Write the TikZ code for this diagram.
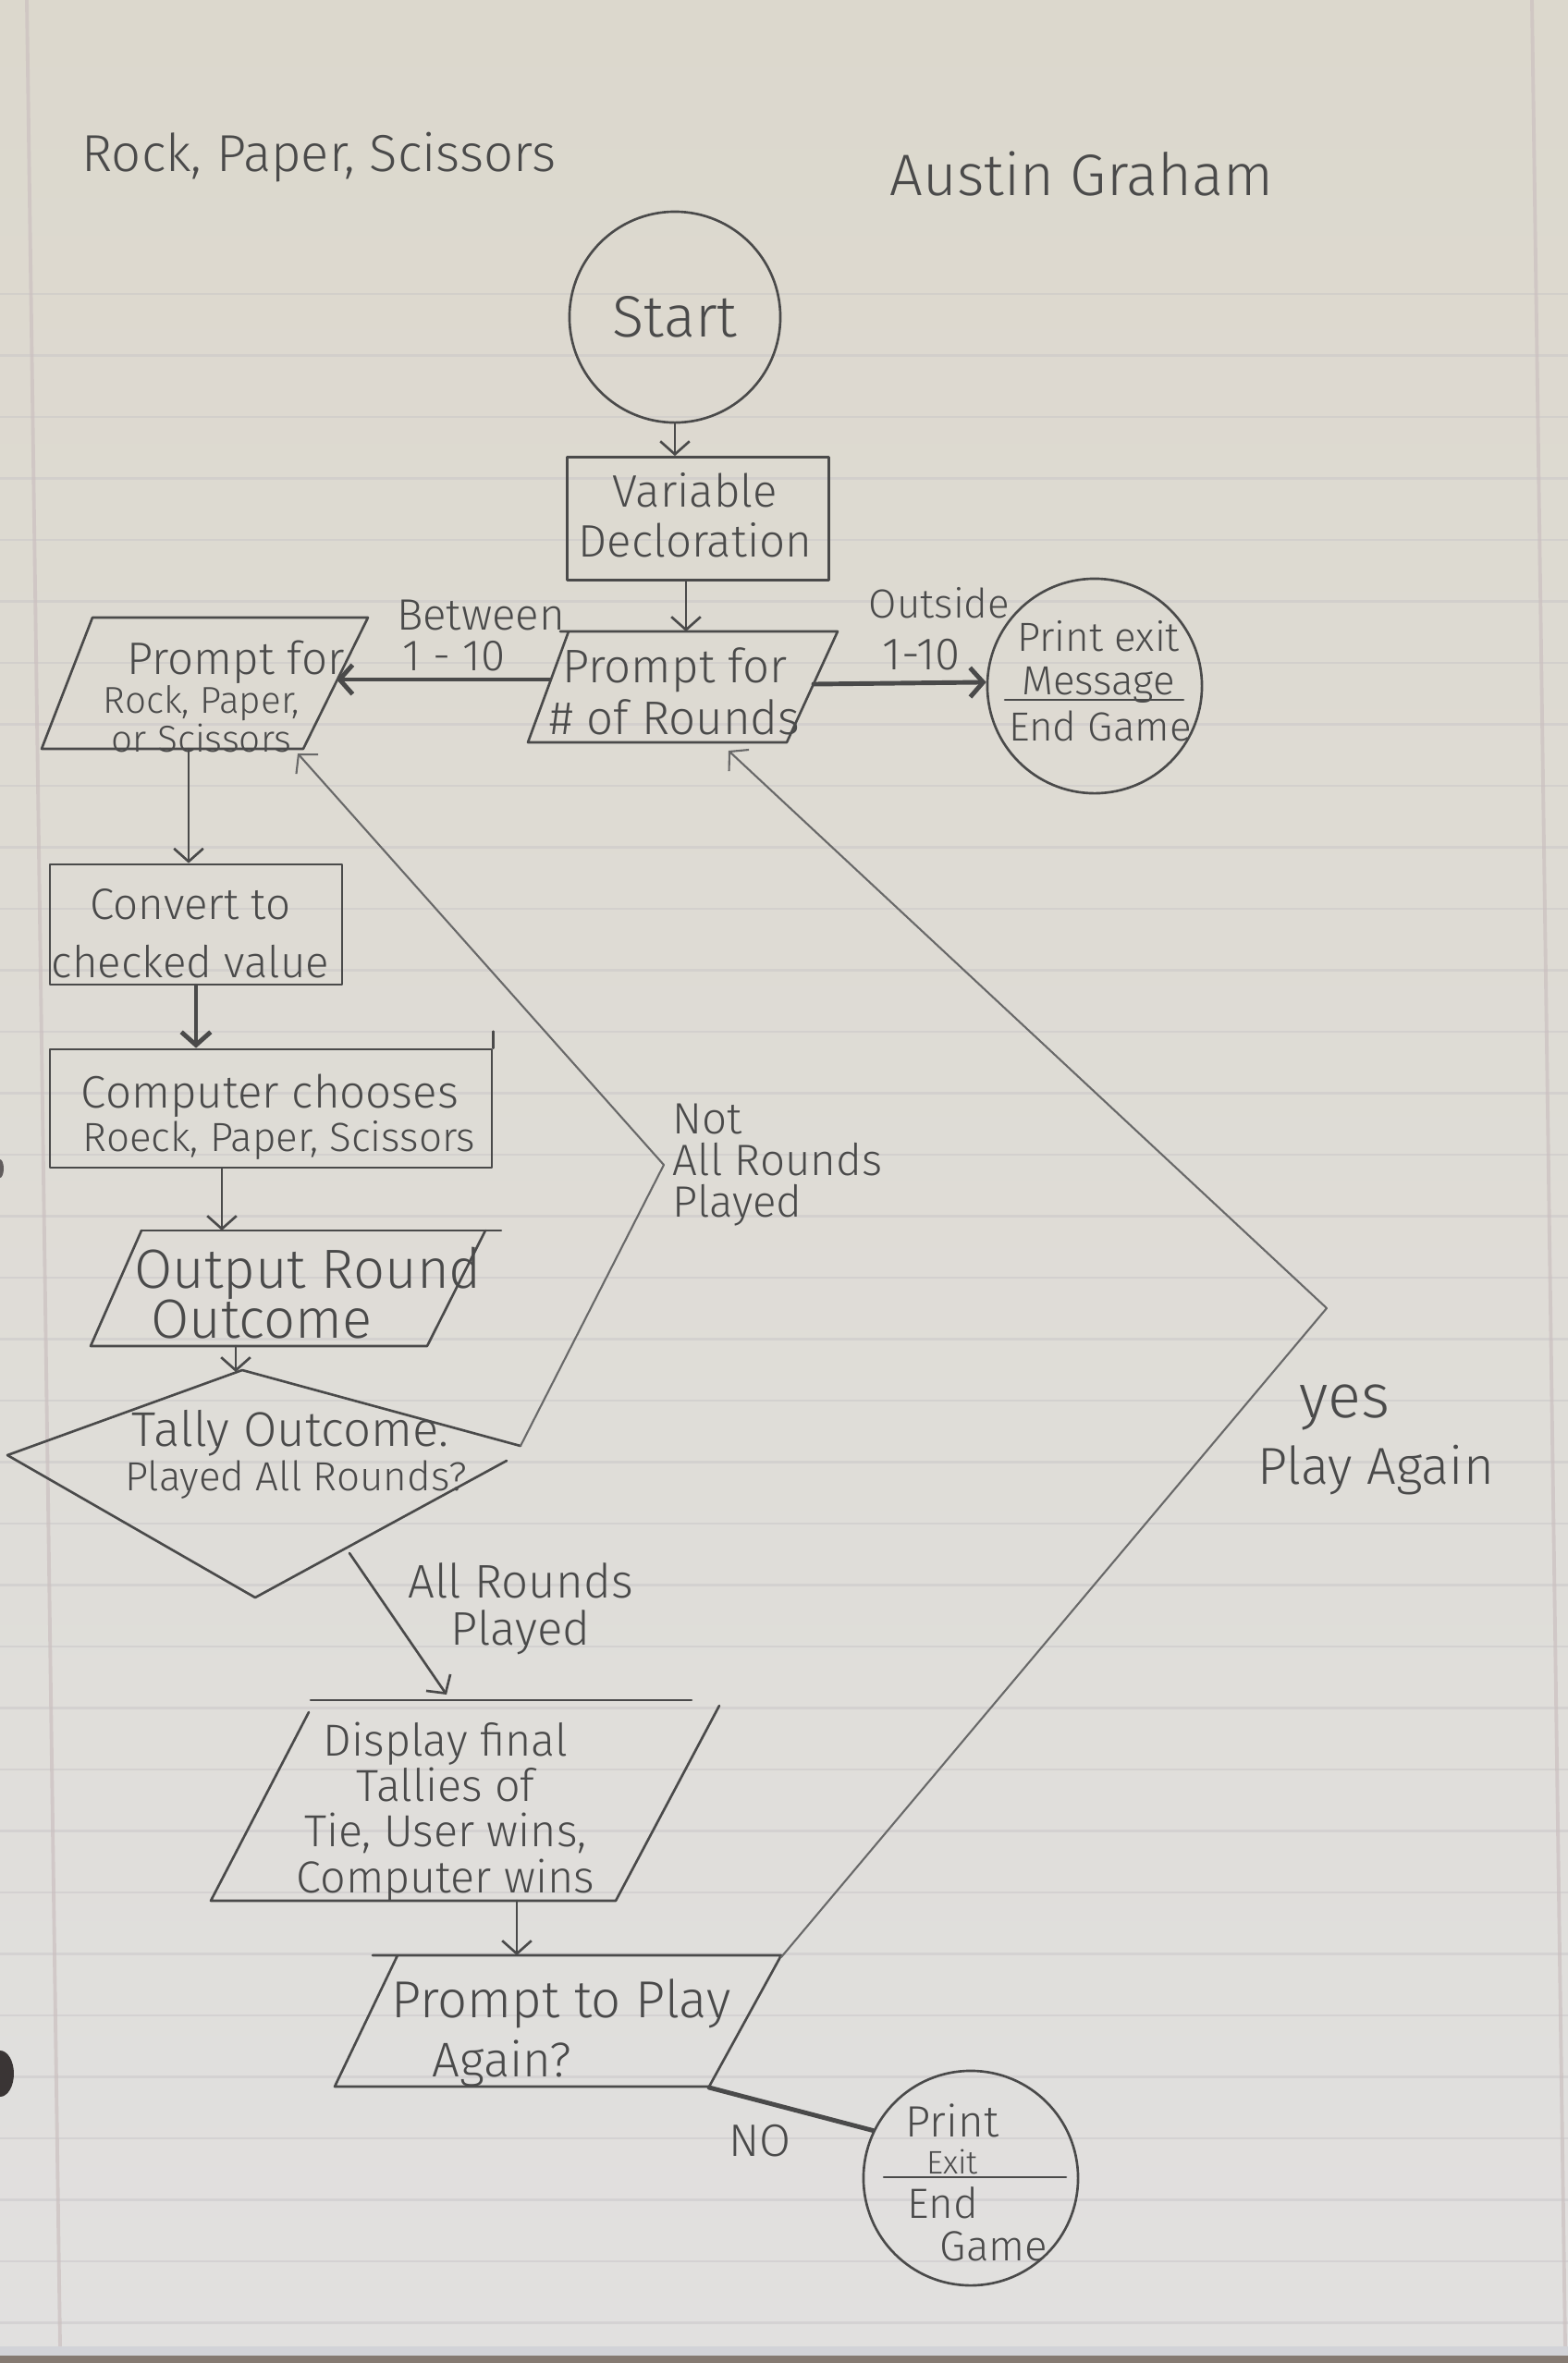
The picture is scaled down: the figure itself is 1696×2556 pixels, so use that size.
\documentclass[tikz,border=0pt]{standalone}
\usepackage{fontspec}
\setmainfont{Fira Sans}[UprightFont={* Light}]
\usetikzlibrary{arrows.meta}

\definecolor{paperTop}{HTML}{DCD8CD}
\definecolor{paperMid}{HTML}{E4E2DE}
\definecolor{paperBot}{HTML}{E1E0DF}
\definecolor{ruleC}{HTML}{C6C3C6}
\definecolor{marginC}{HTML}{CBC0C0}
\definecolor{pencil}{HTML}{4A4A4A}
\definecolor{pencilLight}{HTML}{696969}
\definecolor{edgeC}{HTML}{857A72}
\definecolor{edgeLight}{HTML}{D2D3D8}
\definecolor{holeC}{HTML}{3A3535}

\newcommand{\fsz}[2]{\fontsize{#1}{#2}\selectfont}

\begin{document}
\begin{tikzpicture}[x=0.01cm,y=-0.01cm,
  line join=round, line cap=round,
  outline/.style={draw=pencil, line width=0.75pt},
  faint/.style={draw=pencilLight, line width=0.6pt},
  heavy/.style={draw=pencil, line width=1.4pt},
  arr/.style={-{Straight Barb[length=4pt,width=9pt]}},
  hand/.style={text=pencil, inner sep=0pt, align=center},
  box/.style={outline, rectangle, inner sep=0pt},
  term/.style={outline, circle, inner sep=0pt, minimum size=2.32cm},
]

% ---- notebook paper ----
\shade[top color=paperTop, middle color=paperMid, bottom color=paperBot] (0,0) rectangle (1696,2556);
\useasboundingbox (0,0) rectangle (1696,2556);
\foreach \k in {0,...,33}
  \draw[ruleC, opacity=0.45, line width=0.6pt] (0,{318+66.5*\k}) -- (1696,{318+66.5*\k});
\draw[marginC, opacity=0.7, line width=1.1pt] (29,0) -- (65,2538);
\draw[marginC, opacity=0.7, line width=1.1pt] (1657,0) -- (1693,2538);
\fill[edgeLight] (0,2538) rectangle (1696,2548);
\fill[edgeC] (0,2548) rectangle (1696,2556);
\fill[holeC] (0,2243) ellipse [x radius=15, y radius=25];
\fill[holeC!80] (0,1264) ellipse [x radius=4, y radius=10];

% ---- heading ----
\node[hand, font=\fsz{16}{18}] (title) at (345,170) {Rock, Paper, Scissors};
\node[hand, font=\fsz{18}{20}] (author) at (1170,188) {Austin Graham};

% ---- start and setup ----
\node[term, minimum size=2.28cm, hand, font=\fsz{18}{20}] (start) at (730,343) {Start};
\node[box, minimum width=2.83cm, minimum height=1.33cm] (var) at (755,561) {};
\node[hand, font=\fsz{14}{15.5}] (vartxt) at (752,557) {Variable\\Decloration};

% prompt for number of rounds
\coordinate (prTop) at (742,683);
\coordinate (prLeft) at (594,735);
\coordinate (prRight) at (880,740);
\coordinate (prBot) at (788,812);
\draw[outline] (606,683) -- (906,683) -- (851,803) -- (571,803) -- (615,683);
\node[hand, font=\fsz{14.5}{16}] (rounds) at (730,748) {Prompt for\\\# of Rounds};

% exit circle for out-of-range input
\node[term] (exitc) at (1184,742) {};
\node[hand, font=\fsz{12.5}{13.6}] (exitA) at (1188,716) {Print exit\\Message};
\draw[outline] (1087,757) -- (1280,757);
\node[hand, font=\fsz{12.5}{14}] (exitB) at (1190,785) {End Game};

% prompt for the player's choice
\coordinate (rkRight) at (364,735);
\coordinate (rkBot) at (204,810);
\coordinate (rkCorner) at (322,815);
\draw[outline] (100,668) -- (398,668) -- (328,810) -- (45,810) -- cycle;
\node[hand, font=\fsz{14}{16}] (rockA) at (255,716) {Prompt for};
\node[hand, font=\fsz{11.5}{9.8}] (rockB) at (218,778) {Rock, Paper,\\or Scissors};

% range check branches
\draw[heavy, arr] (prLeft) -- (rkRight);
\node[hand, font=\fsz{13.5}{15}] (between) at (520,665) {Between};
\node[hand, font=\fsz{13.5}{15}] (rangeA) at (491,710) {1 - 10};
\draw[heavy, arr] (prRight) -- (exitc.178);
\node[hand, font=\fsz{12.5}{14}] (outside) at (1016,652) {Outside};
\node[hand, font=\fsz{14}{15}] (rangeB) at (997,708) {1-10};

\draw[outline, arr] (start.south) -- (start.south |- var.north);
\draw[outline, arr] (var.south -| prTop) -- (prTop);

% ---- round loop ----
\node[box, minimum width=3.16cm, minimum height=1.30cm] (conv) at (212,1000) {};
\node[hand, font=\fsz{13.5}{18}] (convtxt) at (206,1010) {Convert to\\checked value};
\draw[outline, arr] (rkBot) -- (rkBot |- conv.north);

\node[box, minimum width=4.78cm, minimum height=1.28cm] (comp) at (293,1199) {};
\draw[outline] (comp.north east) -- ++(0,-18);
\node[hand, font=\fsz{14}{16}] (compA) at (292,1185) {Computer chooses};
\node[hand, font=\fsz{12.5}{14}] (compB) at (302,1233) {Roeck, Paper, Scissors};
\draw[heavy, arr] (conv.south) -- (conv.south |- comp.north);

\coordinate (outTop) at (240,1331);
\coordinate (outBot) at (255,1456);
\draw[outline] (153,1331) -- (542,1331);
\draw[outline] (525,1331) -- (462,1456) -- (98,1456) -- (153,1331);
\node[hand, font=\fsz{17}{19}] (outA) at (333,1377) {Output Round};
\node[hand, font=\fsz{17}{19}] (outB) at (283,1427) {Outcome};
\draw[outline, arr] (comp.south -| outTop) -- (outTop);

% decision: all rounds played?
\coordinate (dmTop) at (262,1484);
\coordinate (dmRight) at (563,1564);
\coordinate (dmLow) at (378,1680);
\draw[outline] (8,1574) -- (262,1482) -- (563,1564);
\draw[outline] (548,1580) -- (276,1728) -- (8,1574);
\node[hand, font=\fsz{15}{17}] (tallyA) at (314,1550) {Tally Outcome.};
\node[hand, font=\fsz{12.5}{14}] (tallyB) at (320,1601) {Played All Rounds?};
\draw[outline, arr] (outBot) -- (outBot |- dmTop);

% not finished: back to the player's choice
\coordinate (kinkA) at (718,1260);
\draw[faint, arr] (dmRight) -- (kinkA) -- (rkCorner);
\node[hand, font=\fsz{13.5}{12.8}, align=left, anchor=north west] (notall) at (727,1193) {Not\\All Rounds\\Played};

% finished: show results
\coordinate (dispTop) at (483,1833);
\coordinate (dispBot) at (559,2056);
\draw[outline, arr] (dmLow) -- (dispTop);
\node[hand, font=\fsz{14.5}{14.5}] (allplayed) at (563,1740) {All Rounds\\Played};
\draw[outline] (336,1839) -- (748,1839);
\draw[outline] (778,1845) -- (666,2056) -- (228,2056) -- (334,1852);
\node[hand, font=\fsz{13.8}{14}] (disptxt) at (482,1960) {Display final\\Tallies of\\Tie, User wins,\\Computer wins};

% play again?
\coordinate (playTop) at (559,2115);
\coordinate (playTR) at (845,2117);
\coordinate (playBR) at (767,2258);
\draw[outline] (403,2115) -- (845,2115) -- (767,2257) -- (362,2257) -- (430,2115);
\node[hand, font=\fsz{16}{18}] (playA) at (607,2167) {Prompt to Play};
\node[hand, font=\fsz{15}{17}] (playB) at (543,2232) {Again?};
\draw[outline, arr] (dispBot) -- (playTop);

% yes: start over
\coordinate (kinkB) at (1435,1415);
\draw[faint, arr] (playTR) -- (kinkB) -- (prBot);
\node[hand, font=\fsz{19}{20}] (yes) at (1454,1522) {yes};
\node[hand, font=\fsz{16}{18}] (playagain) at (1488,1590) {Play Again};

% no: finish
\node[term] (endc) at (1050,2356) {};
\draw[heavy] (playBR) -- (endc.154);
\node[hand, font=\fsz{14}{15}] (no) at (822,2316) {NO};
\node[hand, font=\fsz{13.5}{15}] (endA) at (1030,2294) {Print};
\node[hand, font=\fsz{10}{12}] (endB) at (1030,2338) {Exit};
\draw[outline] (956,2355) -- (1153,2355);
\node[hand, font=\fsz{13}{14}] (endC) at (1020,2383) {End};
\node[hand, font=\fsz{13}{14}] (endD) at (1075,2430) {Game};

\end{tikzpicture}
\end{document}
